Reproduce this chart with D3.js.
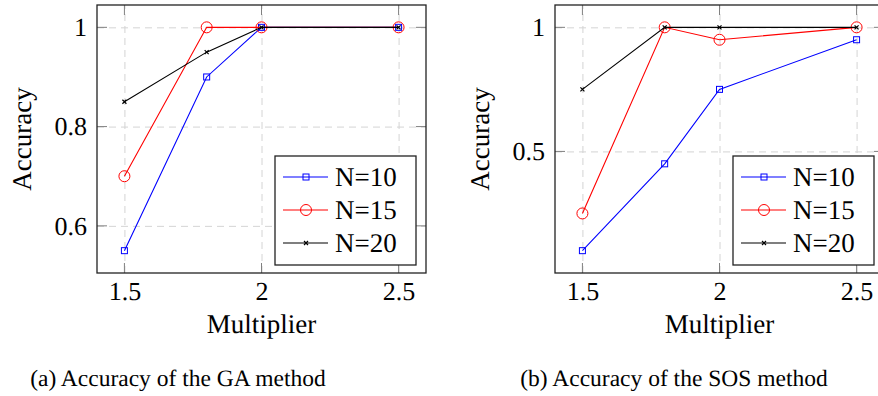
<!DOCTYPE html>
<meta charset="utf-8">
<script src="https://d3js.org/d3.v7.min.js"></script>
<style>
  body { margin: 0; background: #fff; }
  text { font-family: "Liberation Serif", serif; fill: #000; text-rendering: geometricPrecision; }
</style>
<body>
<div id="chart"></div>
<script>
  // data
  var xValues = [1.5, 1.8, 2, 2.5];
  var xTicks = [1.5, 2, 2.5];
  var seriesNames = ["N=10", "N=15", "N=20"];

  var gaN10 = [0.55, 0.9, 1, 1];
  var gaN15 = [0.7, 1, 1, 1];
  var gaN20 = [0.85, 0.95, 1, 1];
  var gaYTicks = [0.6, 0.8, 1];

  var sosN10 = [0.1, 0.45, 0.75, 0.95];
  var sosN15 = [0.25, 1, 0.95, 1];
  var sosN20 = [0.75, 1, 1, 1];
  var sosYTicks = [0.5, 1];

  var captions = ["(a) Accuracy of the GA method", "(b) Accuracy of the SOS method"];

  var colors = ["#0000ff", "#ff0000", "#000000"];
  var markTypes = ["square", "circle", "cross"];
  var textFont = "'Liberation Serif', serif";

  var W = 878, H = 396;
  var svg = d3.select("#chart").append("svg")
    .attr("width", W)
    .attr("height", H);

  // add a little room above/below the data like pgfplots does
  function paddedDomain(series) {
    var all = [].concat.apply([], series);
    var lo = d3.min(all), hi = d3.max(all);
    var pad = (hi - lo) * 0.1;
    return [lo - pad, hi + pad];
  }

  function drawMark(g, type, color, cx, cy) {
    if (type == "square") {
      g.append("rect")
        .attr("x", cx - 3).attr("y", cy - 3)
        .attr("width", 6).attr("height", 6)
        .attr("fill", "none").attr("stroke", color).attr("stroke-width", 1);
    } else if (type == "circle") {
      g.append("circle")
        .attr("cx", cx).attr("cy", cy).attr("r", 5.5)
        .attr("fill", "none").attr("stroke", color).attr("stroke-width", 1);
    } else {
      g.append("path")
        .attr("d", "M" + (cx - 2) + "," + (cy - 2) + "L" + (cx + 2) + "," + (cy + 2) +
                   "M" + (cx - 2) + "," + (cy + 2) + "L" + (cx + 2) + "," + (cy - 2))
        .attr("stroke", color).attr("stroke-width", 1.2);
    }
  }

  function drawPanel(left, series, yTicks, caption, captionX) {
    var top = 5, width = 329, height = 268;

    var x = d3.scaleLinear().domain([1.4, 2.6]).range([0, width]);
    var y = d3.scaleLinear().domain(paddedDomain(series)).range([height, 0]);

    var g = svg.append("g")
      .attr("transform", "translate(" + left + "," + top + ")");

    // dashed grid
    g.append("g")
      .attr("transform", "translate(0," + height + ")")
      .call(d3.axisBottom(x).tickValues(xTicks).tickSize(-height).tickFormat(""))
      .call(function(a) { a.select(".domain").remove(); })
      .selectAll("line")
      .attr("stroke", "#d4d4d4").attr("stroke-dasharray", "7,5");
    g.append("g")
      .call(d3.axisLeft(y).tickValues(yTicks).tickSize(-width).tickFormat(""))
      .call(function(a) { a.select(".domain").remove(); })
      .selectAll("line")
      .attr("stroke", "#d4d4d4").attr("stroke-dasharray", "7,5");

    // inner tick marks on all four sides
    var tl = 10;
    xTicks.forEach(function(t) {
      g.append("line").attr("x1", x(t)).attr("x2", x(t)).attr("y1", height).attr("y2", height - tl)
        .attr("stroke", "#808080");
      g.append("line").attr("x1", x(t)).attr("x2", x(t)).attr("y1", 0).attr("y2", tl)
        .attr("stroke", "#808080");
    });
    yTicks.forEach(function(t) {
      g.append("line").attr("x1", 0).attr("x2", tl).attr("y1", y(t)).attr("y2", y(t))
        .attr("stroke", "#808080");
      g.append("line").attr("x1", width).attr("x2", width - tl).attr("y1", y(t)).attr("y2", y(t))
        .attr("stroke", "#808080");
    });

    // tick labels
    g.append("g")
      .attr("transform", "translate(0," + height + ")")
      .call(d3.axisBottom(x).tickValues(xTicks).tickSize(0).tickPadding(9).tickFormat(d3.format("")))
      .call(function(a) { a.select(".domain").remove(); })
      .selectAll("text")
      .attr("fill", "#000")
      .style("font-size", "26px")
      .style("font-family", textFont);
    g.append("g")
      .call(d3.axisLeft(y).tickValues(yTicks).tickSize(0).tickPadding(10).tickFormat(d3.format("")))
      .call(function(a) { a.select(".domain").remove(); })
      .selectAll("text")
      .attr("fill", "#000")
      .style("font-size", "26px")
      .style("font-family", textFont);

    // lines and marks
    var line = d3.line()
      .x(function(d, i) { return x(xValues[i]); })
      .y(function(d) { return y(d); });

    series.forEach(function(s, k) {
      g.append("path")
        .datum(s)
        .attr("d", line)
        .attr("fill", "none")
        .attr("stroke", colors[k])
        .attr("stroke-width", 1.1);
      s.forEach(function(v, i) {
        drawMark(g, markTypes[k], colors[k], x(xValues[i]), y(v));
      });
    });

    // frame
    g.append("rect")
      .attr("width", width).attr("height", height)
      .attr("fill", "none").attr("stroke", "#222").attr("stroke-width", 1.3);

    // legend
    var lw = 141, lh = 109;
    var lg = g.append("g")
      .attr("transform", "translate(" + (width - 10 - lw) + "," + (height - 8 - lh) + ")");
    lg.append("rect")
      .attr("width", lw).attr("height", lh)
      .attr("fill", "#fff").attr("stroke", "#222").attr("stroke-width", 1.3);
    seriesNames.forEach(function(name, k) {
      var cy = 21 + k * 33;
      lg.append("line")
        .attr("x1", 8).attr("x2", 53).attr("y1", cy).attr("y2", cy)
        .attr("stroke", colors[k]).attr("stroke-width", 1.1);
      drawMark(lg, markTypes[k], colors[k], 31, cy);
      lg.append("text")
        .attr("x", 60).attr("y", cy)
        .attr("dy", "0.35em")
        .style("font-size", "27px")
        .text(name);
    });

    // axis titles
    svg.append("text")
      .attr("x", left + width / 2)
      .attr("y", 333)
      .attr("text-anchor", "middle")
      .style("font-size", "27px")
      .text("Multiplier");
    svg.append("text")
      .attr("transform", "translate(" + (left - 66) + "," + (top + height / 2) + ") rotate(-90)")
      .attr("text-anchor", "middle")
      .style("font-size", "27px")
      .text("Accuracy");

    // caption
    svg.append("text")
      .attr("x", captionX)
      .attr("y", 386)
      .attr("text-anchor", "middle")
      .style("font-size", "23.5px")
      .text(caption);
  }

  drawPanel(97, [gaN10, gaN15, gaN20], gaYTicks, captions[0], 178);
  drawPanel(555, [sosN10, sosN15, sosN20], sosYTicks, captions[1], 674);
</script>
</body>
